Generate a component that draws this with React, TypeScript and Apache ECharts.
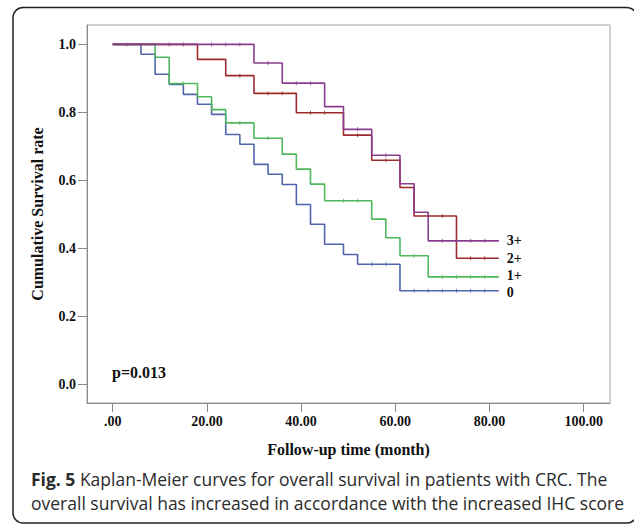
import React, { useEffect, useRef } from "react";
import * as echarts from "echarts";

// Kaplan-Meier step curves: event times (months) and survival after each event
const times0 = [0, 6, 9, 12, 15, 18, 21, 24, 27, 30, 33, 36, 39, 42, 45, 49, 52, 61, 82];
const surv0 = [1, 0.971, 0.912, 0.882, 0.853, 0.824, 0.794, 0.735, 0.706, 0.647, 0.618, 0.588, 0.529, 0.471, 0.412, 0.382, 0.353, 0.275, 0.275];
const censor0 = [55, 58, 64, 67, 70, 73, 76, 79];

const times1 = [0, 9, 12, 18, 21, 24, 30, 36, 39, 42, 45, 55, 58, 61, 67, 82];
const surv1 = [1, 0.962, 0.885, 0.846, 0.808, 0.769, 0.724, 0.677, 0.633, 0.589, 0.54, 0.486, 0.431, 0.378, 0.316, 0.316];
const censor1 = [15, 27, 33, 49, 52, 64, 70, 73, 76, 79];

const times2 = [0, 18, 24, 30, 39, 49, 55, 61, 64, 73, 82];
const surv2 = [1, 0.956, 0.908, 0.856, 0.799, 0.733, 0.659, 0.579, 0.495, 0.371, 0.371];
const censor2 = [27, 33, 36, 42, 45, 52, 58, 67, 70, 76, 79];

const times3 = [0, 30, 36, 45, 49, 55, 61, 64, 67, 82];
const surv3 = [1, 0.945, 0.886, 0.817, 0.75, 0.674, 0.59, 0.506, 0.422, 0.422];
const censor3 = [3, 12, 15, 21, 24, 27, 33, 39, 42, 52, 58, 70, 73, 76, 79];

const groupNames = ["0", "1+", "2+", "3+"];
const xTicks = [0, 20, 40, 60, 80, 100];
const yTicks = [0, 0.2, 0.4, 0.6, 0.8, 1.0];
const pText = "p=0.013";
const caption1 = "Kaplan-Meier curves for overall survival in patients with CRC. The";
const caption2 = "overall survival has increased in accordance with the increased IHC score";

const colors = ["#4f66ad", "#4fb85c", "#9e2b2b", "#8a3c8f"];
const labelOffsets = [[0, 2], [0, -1], [0, 0], [0, 0]];
const serif = "'Liberation Serif', 'Times New Roman', serif";
const sans = "'Open Sans', sans-serif";

function survAt(times: number[], surv: number[], t: number) {
  let s = surv[0];
  for (let i = 0; i < times.length; i++) {
    if (times[i] <= t) s = surv[i];
  }
  return s;
}

export default function App() {
  const ref = useRef<HTMLDivElement>(null);
  useEffect(() => {
    if (!ref.current) return;
    const chart = echarts.init(ref.current, undefined, { renderer: "svg" });
    const groups = [
      { t: times0, s: surv0, c: censor0 },
      { t: times1, s: surv1, c: censor1 },
      { t: times2, s: surv2, c: censor2 },
      { t: times3, s: surv3, c: censor3 },
    ];
    const series: any[] = [];
    groups.forEach((g, i) => {
      series.push({
        type: "line",
        name: groupNames[i],
        step: "end",
        showSymbol: false,
        symbol: "none",
        data: g.t.map((t, k) => [t, g.s[k]]),
        lineStyle: { color: colors[i], width: 1.6 },
        z: 2 + i,
        endLabel: {
          show: true,
          formatter: groupNames[i],
          distance: 8,
          offset: labelOffsets[i],
          fontFamily: serif,
          fontWeight: "bold",
          fontSize: 14,
          lineHeight: 14,
          color: "#111",
        },
      });
      series.push({
        type: "scatter",
        symbol: "rect",
        symbolSize: [1, 4],
        data: g.c.map((t) => [t, survAt(g.t, g.s, t)]),
        itemStyle: { color: colors[i], opacity: 0.8 },
        z: 2 + i,
        silent: true,
      });
    });

    chart.setOption({
      animation: false,
      grid: {
        left: 87,
        top: 25,
        right: 24,
        bottom: 122,
        show: true,
        borderColor: "#a6a6a6",
        borderWidth: 1,
        backgroundColor: "transparent",
      },
      xAxis: {
        type: "value",
        min: -5.46,
        max: 105.6,
        splitLine: { show: false },
        axisLine: { show: true, onZero: false, lineStyle: { color: "#8a8a8a", width: 1 } },
        axisTick: { show: true, length: 9, customValues: xTicks, lineStyle: { color: "#8a8a8a" } },
        axisLabel: {
          customValues: xTicks,
          margin: 11,
          formatter: (v: number) => (v === 0 ? ".00" : v.toFixed(2)),
          fontFamily: serif,
          fontWeight: "bold",
          fontSize: 14,
          color: "#111",
        },
        name: "Follow-up time (month)",
        nameLocation: "middle",
        nameGap: 38,
        nameTextStyle: { fontFamily: serif, fontWeight: "bold", fontSize: 16, color: "#111" },
      },
      yAxis: {
        type: "value",
        min: -0.055,
        max: 1.057,
        splitLine: { show: false },
        axisLine: { show: true, onZero: false, lineStyle: { color: "#8a8a8a", width: 1 } },
        axisTick: { show: true, length: 9, customValues: yTicks, lineStyle: { color: "#8a8a8a" } },
        axisLabel: {
          customValues: yTicks,
          margin: 11,
          formatter: (v: number) => v.toFixed(1),
          fontFamily: serif,
          fontWeight: "bold",
          fontSize: 14,
          color: "#111",
        },
        name: "Cumulative Survival rate",
        nameLocation: "middle",
        nameGap: 42,
        nameTextStyle: { fontFamily: serif, fontWeight: "bold", fontSize: 16, color: "#111" },
      },
      graphic: [
        {
          type: "rect",
          shape: { x: 13, y: 7.5, width: 624, height: 515.5, r: 10 },
          style: { fill: "none", stroke: "#222", lineWidth: 1.5 },
          silent: true,
        },
        {
          type: "text",
          x: 112,
          y: 372,
          style: {
            text: pText,
            fontFamily: serif,
            fontWeight: "bold",
            fontSize: 16,
            fill: "#111",
            verticalAlign: "middle",
          },
        },
        {
          type: "text",
          x: 31,
          y: 479,
          style: {
            text: "{b|Fig. 5} " + caption1,
            fontFamily: sans,
            fontSize: 17.5,
            fill: "#2b2b2b",
            verticalAlign: "middle",
            rich: {
              b: { fontFamily: sans, fontSize: 17.5, fontWeight: "bold", fill: "#2b2b2b" },
            },
          },
        },
        {
          type: "text",
          x: 31,
          y: 503,
          style: {
            text: caption2,
            fontFamily: sans,
            fontSize: 17.5,
            fill: "#2b2b2b",
            verticalAlign: "middle",
          },
        },
      ],
      series,
    });
    return () => chart.dispose();
  }, []);
  return (
    <div
      ref={ref}
      style={{ position: "absolute", left: 0, top: 0, width: 634, height: 525, background: "#fff" }}
    />
  );
}
